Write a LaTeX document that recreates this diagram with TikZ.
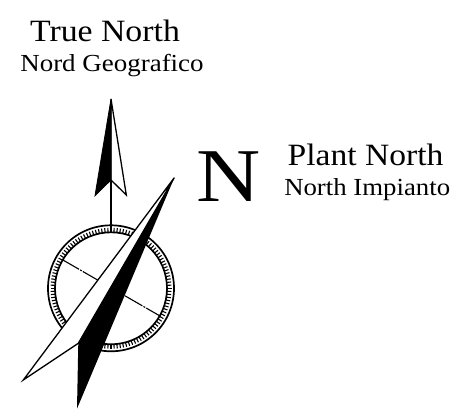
\documentclass[tikz,border=0pt]{standalone}
\usepackage{fontspec}
\usetikzlibrary{calc}
\setmainfont{Liberation Serif}
\tikzset{
 lab/.style={inner sep=0pt,anchor=base,text=black},
 blackfill/.style={fill=black,draw=black,line width=0.8pt,line join=miter},
 whitefill/.style={fill=white,draw=black,line width=1.3pt,line join=miter},
 ring/.style={draw=black,line width=1.7pt},
}
\begin{document}
\begin{tikzpicture}[x=1pt,y=-1pt]
\useasboundingbox (0,0) rectangle (451,409);
\coordinate (c) at (111,288.3);
% compass ring
\node[circle,ring,minimum size=126pt,inner sep=0pt] (outer) at (c) {};
\node[circle,ring,minimum size=112pt,inner sep=0pt] (inner) at (c) {};
\foreach \a in {0,3,...,357}{
  \draw[line width=1.1pt] ($(c)+(\a:56)$) -- ($(c)+(\a:60.5)$);
}
% cross line
\coordinate (e1) at (61.7,259.3);
\coordinate (e2) at (160,316);
\draw[line width=1.1pt,dash pattern=on 20pt off 1.2pt on 2pt off 1.2pt] (e1) -- (e2);
% north arrow
\coordinate (at) at (111,99);
\coordinate (al) at (95,195.7);
\coordinate (ar) at (126.3,195);
\coordinate (an) at (111,180);
\coordinate (as) at (111,231);
\draw[line width=1.3pt] (an) -- (as);
\draw[whitefill] (at) -- (ar) -- (an) -- cycle;
\draw[blackfill] (at) -- (al) -- (an) -- cycle;
% plant needle
\coordinate (nt) at (174.3,177.7);
\coordinate (nl) at (23.3,380);
\coordinate (nn) at (78.3,343.3);
\coordinate (nb) at (77,408.7);
\draw[whitefill] (nt) -- (nl) -- (nn) -- cycle;
\fill[black] (nt) -- (nn) -- (nb) -- cycle;
% labels
\node[lab,font=\fontsize{31}{32}\selectfont] (t1) at (105,41.7) {\scalebox{1.09}[1]{True North}};
\node[lab,font=\fontsize{24.5}{26}\selectfont] (t2) at (112,71.7) {\scalebox{1.1}[1]{Nord Geografico}};
\node[lab,font=\fontsize{76}{76}\selectfont] (n) at (228.2,202) {\scalebox{1.17}[1]{N}};
\node[lab,font=\fontsize{31}{32}\selectfont] (p1) at (365.5,166) {\scalebox{1.083}[1]{Plant North}};
\node[lab,font=\fontsize{24.5}{26}\selectfont] (p2) at (367.2,195.7) {\scalebox{1.093}[1]{North Impianto}};
\end{tikzpicture}
\end{document}
